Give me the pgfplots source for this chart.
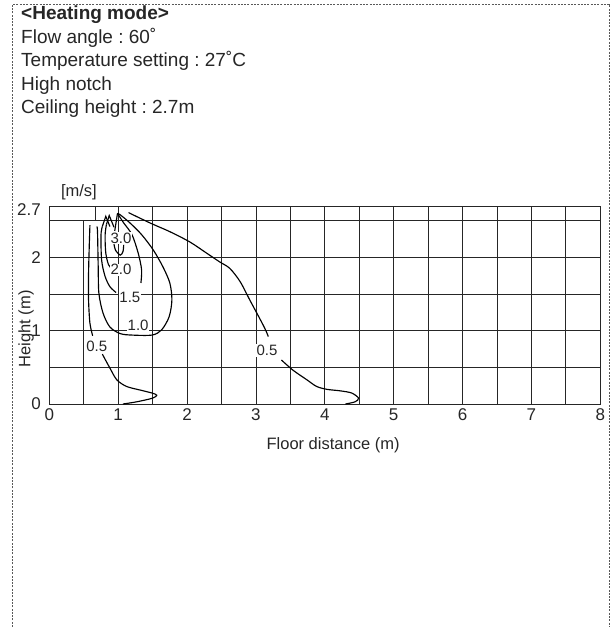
\documentclass[border=0pt]{standalone}
\usepackage{fontspec}
\setmainfont{Liberation Sans}
\usepackage{pgfplots}
\pgfplotsset{compat=1.18}
\frenchspacing
\begin{document}
\begin{tikzpicture}
\useasboundingbox (0,0) rectangle (611pt,-627pt);
\draw[black!65, line width=0.8pt, dash pattern=on 2pt off 1.3pt] (12.5pt,-627pt) -- (12.5pt,-4pt) -- (609pt,-4pt) -- (609pt,-627pt);
\node[anchor=base west, inner sep=0pt, font=\fontsize{19}{22}\selectfont\bfseries, text=black!85] at (21pt,-19.5pt) {<Heating mode>};
\node[anchor=base west, inner sep=0pt, font=\fontsize{19}{22}\selectfont, text=black!85] at (21pt,-43pt) {Flow angle : 60˚};
\node[anchor=base west, inner sep=0pt, font=\fontsize{19}{22}\selectfont, text=black!85] at (21pt,-66.5pt) {Temperature setting : 27˚C};
\node[anchor=base west, inner sep=0pt, font=\fontsize{19}{22}\selectfont, text=black!85] at (21pt,-90pt) {High notch};
\node[anchor=base west, inner sep=0pt, font=\fontsize{19}{22}\selectfont, text=black!85] at (21pt,-113.5pt) {Ceiling height : 2.7m};
\begin{axis}[
 at={(49.3pt,-404pt)}, anchor=south west,
 scale only axis, width=551pt, height=198pt,
 xmin=0, xmax=8, ymin=0, ymax=2.7,
 xtick={0,1,...,8}, ytick={0,1,2},
 extra y ticks={2.7},
 extra y tick style={yticklabel style={yshift=-4pt}},
 minor xtick={0.5,1.5,...,7.5}, minor ytick={0.5,1.5,2.5},
 grid=both,
 major grid style={black!85, line width=0.75pt},
 minor grid style={black!85, line width=0.75pt},
 major tick length=0pt, minor tick length=0pt,
 axis line style={black!85, line width=0.8pt},
 /pgf/number format/assume math mode=true,
 tick label style={font=\fontsize{17}{19}\selectfont, text=black!85},
 yticklabel style={xshift=-5pt},
 xticklabel style={yshift=-1.5pt},
 xlabel={Floor distance (m)}, ylabel={Height (m)},
 label style={font=\fontsize{16.5}{18}\selectfont, text=black!85},
 xlabel style={at={(rel axis cs:0.515,0)}, anchor=base, yshift=-45pt},
 ylabel style={at={(axis description cs:-0.042,0.38)}, anchor=center},
 clip=false,
]
% outlet box
\addplot[fill=white, draw=black!85, line width=0.8pt] coordinates {(0,2.5) (0.67,2.5) (0.67,2.7) (0,2.7) (0,2.5)};
% 0.5 left
\addplot[black, line width=1.15pt, smooth, tension=0.5] coordinates {(0.59,2.44) (0.58,2.15) (0.57,1.78) (0.57,1.42) (0.59,1.10) (0.63,0.93)};
\addplot[black, line width=1.15pt, smooth, tension=0.5] coordinates {(0.77,0.68) (0.88,0.49) (0.98,0.33) (1.12,0.24) (1.32,0.19) (1.49,0.15) (1.56,0.12) (1.50,0.08) (1.27,0.03) (1.07,0.0)};
% 1.0
\addplot[black, line width=1.15pt, smooth, tension=0.5] coordinates {(0.69,2.42) (0.70,2.35) (0.71,1.87) (0.72,1.51) (0.78,1.24) (0.88,1.05) (1.03,0.96) (1.20,0.94) (1.49,0.94) (1.63,1.01) (1.74,1.19) (1.78,1.42) (1.75,1.65) (1.65,1.87) (1.51,2.10) (1.34,2.31) (1.17,2.47) (1.03,2.58) (0.99,2.60)};
% 1.5
\addplot[black, line width=1.15pt] coordinates {(0.88,2.42) (0.82,2.56) (0.77,2.42)};
\addplot[black, line width=1.15pt, smooth, tension=0.5] coordinates {(0.77,2.42) (0.75,2.30) (0.76,1.96) (0.81,1.74) (0.88,1.60) (0.97,1.52)};
\addplot[black, line width=1.15pt, smooth, tension=0.5] coordinates {(0.99,2.60) (1.08,2.47) (1.20,2.31) (1.29,2.06) (1.34,1.83) (1.33,1.65)};
% 2.0
\addplot[black, line width=1.15pt] coordinates {(0.94,2.41) (0.87,2.57) (0.83,2.45)};
\addplot[black, line width=1.15pt, smooth, tension=0.5] coordinates {(0.83,2.45) (0.81,2.30) (0.82,2.06) (0.86,1.90) (0.92,1.83)};
% 3.0
\addplot[black, line width=1.15pt, smooth, tension=0.5] coordinates {(0.94,2.18) (0.96,2.10) (1.03,2.03) (1.07,2.08) (1.08,2.17)};
\addplot[black, line width=1.15pt] coordinates {(0.95,2.36) (0.99,2.60)};
% 0.5 right
\addplot[black, line width=1.15pt, smooth, tension=0.5] coordinates {(1.15,2.61) (1.46,2.47) (1.75,2.35) (2.04,2.21) (2.28,2.06) (2.47,1.94) (2.62,1.85) (2.77,1.67) (2.91,1.42) (3.03,1.21) (3.13,1.03) (3.18,0.92)};
\addplot[black, line width=1.15pt, smooth, tension=0.5] coordinates {(3.37,0.60) (3.54,0.46) (3.74,0.33) (3.88,0.24) (4.03,0.20) (4.22,0.18) (4.39,0.15) (4.49,0.08) (4.44,0.03) (4.30,0.0)};
% labels
\node[fill=white, inner sep=0.8pt, font=\fontsize{15}{17}\selectfont, text=black!85] at (axis cs:1.04,2.26) {3.0};
\node[fill=white, inner sep=0.8pt, font=\fontsize{15}{17}\selectfont, text=black!85] at (axis cs:1.04,1.83) {2.0};
\node[fill=white, inner sep=0.8pt, font=\fontsize{15}{17}\selectfont, text=black!85] at (axis cs:1.17,1.46) {1.5};
\node[fill=white, inner sep=0.5pt, font=\fontsize{15}{17}\selectfont, text=black!85] at (axis cs:1.29,1.07) {1.0};
\node[fill=white, inner sep=0.8pt, font=\fontsize{15}{17}\selectfont, text=black!85] at (axis cs:0.69,0.79) {0.5};
\node[fill=white, inner sep=0.8pt, font=\fontsize{15}{17}\selectfont, text=black!85] at (axis cs:3.16,0.73) {0.5};
\node[font=\fontsize{16.5}{18}\selectfont, text=black!85] at (axis cs:0.43,2.89) {[m/s]};
\end{axis}
\end{tikzpicture}
\end{document}
